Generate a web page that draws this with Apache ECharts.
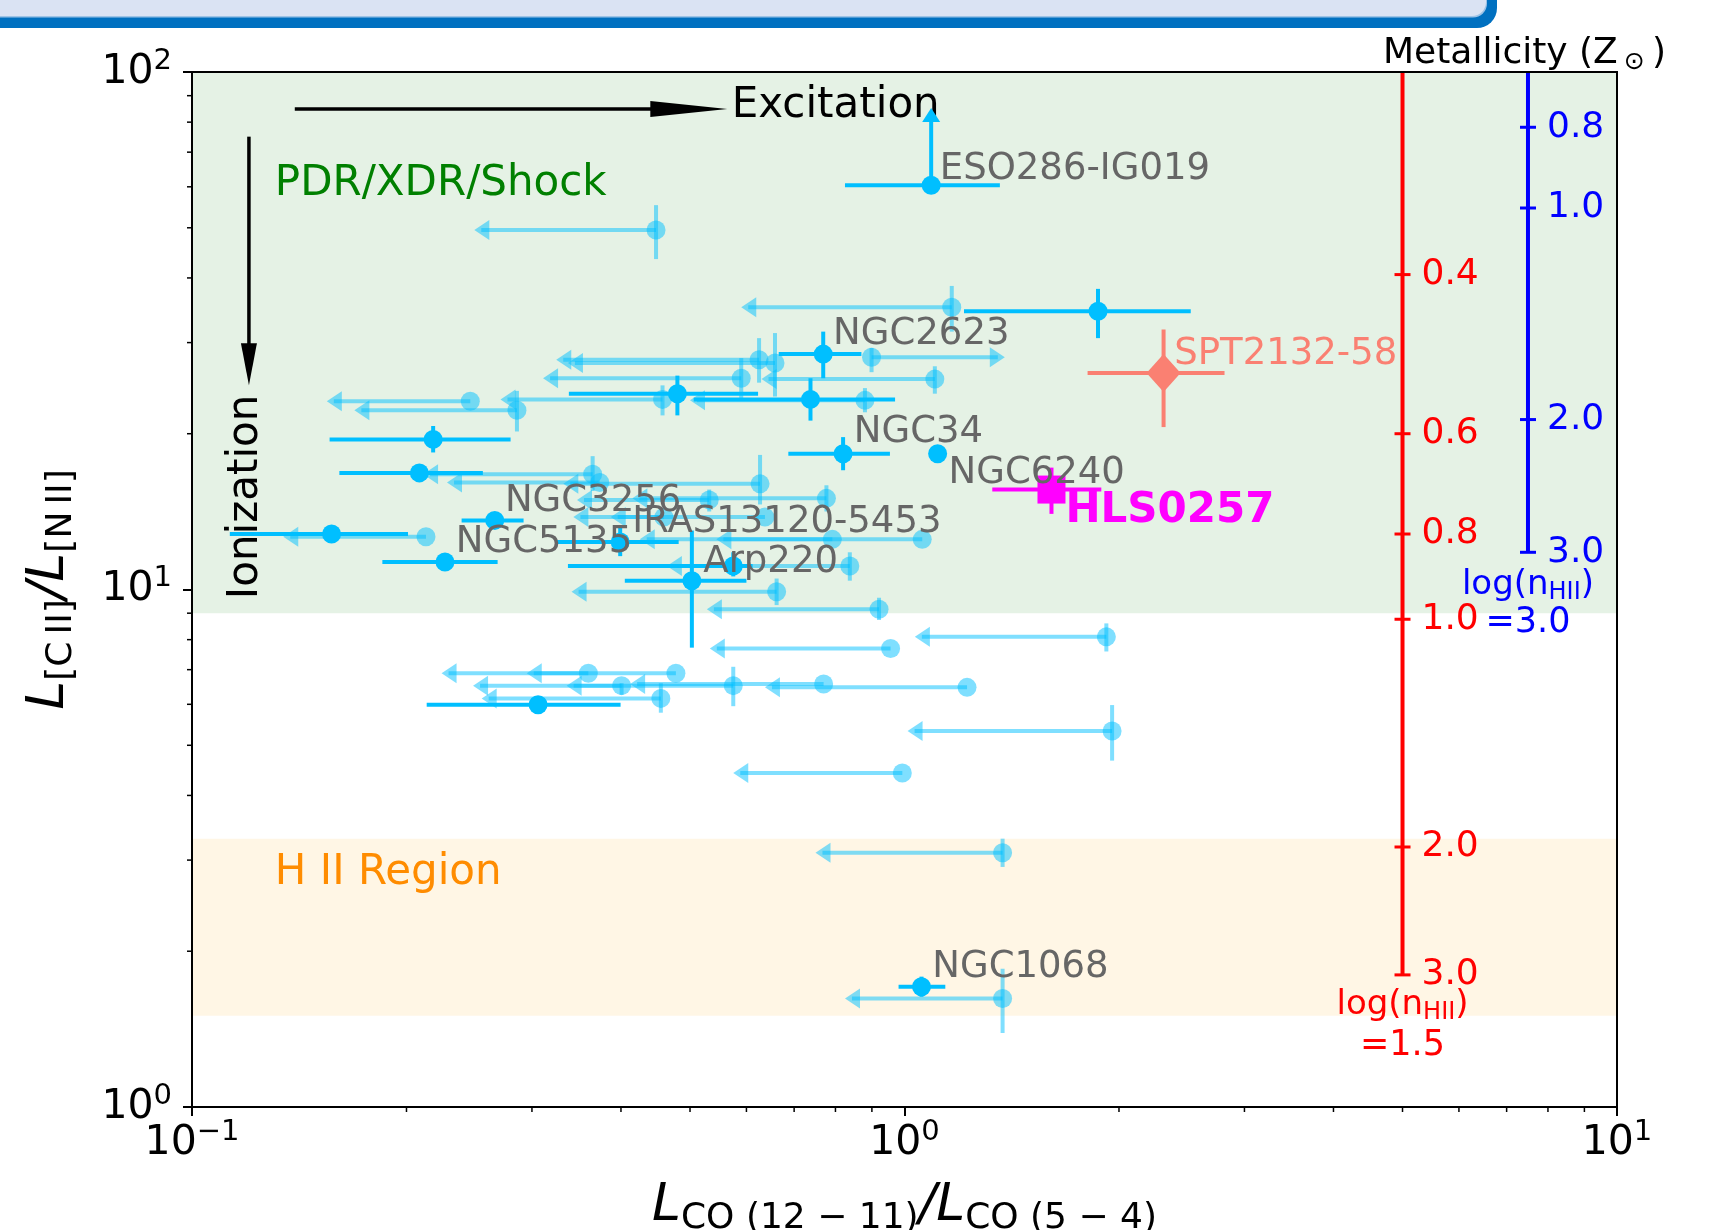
<!DOCTYPE html>
<html><head><meta charset="utf-8">
<script src="https://cdn.jsdelivr.net/npm/echarts@6/dist/echarts.min.js"></script>
<style>html,body{margin:0;padding:0;background:#fff}#c{width:1710px;height:1230px}</style>
</head><body><div id="c"></div><script>
// ---------------- data ----------------
// detections (solid deep-sky-blue points)
const detX   = [1.090, 1.869, 0.769, 0.480, 0.738, 0.218, 0.2085, 0.266, 0.157, 0.2265, 0.399, 0.503, 0.575, 0.820, 1.113, 0.306, 1.0565];
const detY   = [60.4, 34.5, 28.5, 23.9, 23.3, 19.5, 16.8, 13.6, 12.8, 11.3, 12.35, 10.4, 11.1, 18.3, 18.3, 5.99, 1.708];
const detXlo = [0.825, 1.212, 0.666, 0.338, 0.506, 0.156, 0.161, 0.239, 0.113, 0.185, 0.325, 0.405, 0.337, 0.687, null, 0.2135, 0.981];
const detXhi = [1.361, 2.522, 0.870, 0.623, 0.970, 0.280, 0.256, 0.292, 0.201, 0.2685, 0.482, 0.600, 0.612, 0.954, null, 0.3995, 1.141];
const detYlo = [null, 30.6, 25.6, 21.7, 21.2, 18.4, null, null, null, null, 11.6, 7.72, 10.6, 17.0, null, null, 1.633];
const detYhi = [null, 38.1, 31.5, 25.9, 25.6, 20.7, null, null, null, null, 13.2, 13.0, 11.8, 19.7, null, null, 1.786];
const detYLowerLimit = [85.2, null, null, null, null, null, null, null, null, null, null, null, null, null, null, null, null];

// limits (translucent points with arrows); arrow end value in x
const limX   = [0.448,1.165,0.899,1.103,0.880,0.625,0.658,0.590,0.4575,0.2458,0.2858,0.365,0.3735,0.627,0.532,0.777,0.4595,0.637,0.792,1.059,0.213,0.838,0.6615,0.921,1.920,0.956,0.360,0.4777,0.4008,0.575,0.770,1.224,0.455,1.956,0.993,1.373,1.373];
const limY   = [49.5,35.1,28.1,25.5,23.2,27.8,27.4,25.6,23.3,23.1,22.2,16.7,16.1,16.0,14.9,15.0,13.8,13.8,12.5,12.5,12.65,11.1,9.90,9.16,8.10,7.69,6.89,6.89,6.52,6.52,6.57,6.47,6.16,5.33,4.42,3.10,1.62];
const limTip = [0.249,0.590,1.383,0.630,0.500,0.3245,0.337,0.311,0.271,0.1546,0.169,0.211,0.228,0.332,0.347,0.415,0.343,0.387,0.425,0.5445,0.1343,0.464,0.341,0.528,1.034,0.533,0.224,0.295,0.248,0.3356,0.412,0.637,0.255,1.010,0.575,0.750,0.825];
const limYlo = [43.5,31.5,26.3,23.9,22.0,25.1,23.6,23.2,21.7,null,20.2,15.5,null,14.6,14.15,14.15,null,null,null,null,null,10.4,9.33,8.73,7.59,null,null,null,6.26,5.95,null,null,5.78,4.67,null,2.91,1.39];
const limYhi = [55.3,38.6,29.3,27.0,24.5,30.6,31.3,28.0,24.8,null,24.2,18.1,null,18.2,15.6,15.9,null,null,null,null,null,11.8,10.5,9.64,8.60,null,null,null,6.59,7.09,null,null,6.59,5.98,null,3.30,1.85];

// galaxy name labels
const galLabel  = ['ESO286-IG019','NGC2623','NGC34','NGC6240','NGC3256','IRAS13120-5453','NGC5135','Arp220','NGC1068'];
const galLabelX = [1.121, 0.794, 0.849, 1.153, 0.2749, 0.415, 0.2346, 0.522, 1.094];
const galLabelY = [64.9, 31.1, 20.1, 16.8, 14.8, 13.5, 12.35, 11.3, 1.86];

// HLS0257 and SPT2132-58
const hlsX = [1.608], hlsY = [15.6], hlsXerr = [1.328, 1.889], hlsYerr = [14.0, 17.2];
const hlsLabel = ['HLS0257'], hlsLabelX = [1.682], hlsLabelY = [14.2];
const sptX = [2.31], sptY = [26.2], sptXerr = [1.807, 2.813], sptYerr = [20.6, 31.8];
const sptLabel = ['SPT2132-58'], sptLabelX = [2.391], sptLabelY = [28.5];

// background regions
const bandName = ['PDR/XDR/Shock', 'H II Region'];
const bandLow  = [9.0, 1.5];
const bandHigh = [100, 3.3];
const bandLabelX = [0.1307, 0.1307];
const bandLabelY = [60.7, 2.83];

// direction arrows
const arrowFrom = [[0.1394, 84.8], [0.1202, 75.0]];
const arrowTo   = [[0.564, 84.8], [0.1202, 24.8]];
const arrowText = ['Excitation', 'Ionization'];
const arrowTextPos = [[0.572, 86.0], [0.119, 15.1]];

// metallicity scales
const metalRedX = 5.0;
const metalRedTick = ['0.4','0.6','0.8','1.0','2.0','3.0'];
const metalRedTickY = [40.6, 20.0, 12.8, 8.76, 3.18, 1.80];
const metalRedCaption = ['=1.5'];
const metalRedCaptionY = [1.574, 1.31];
const metalBlueX = 7.5;
const metalBlueTick = ['0.8','1.0','2.0','3.0'];
const metalBlueTickY = [78.2, 54.6, 21.3, 11.8];
const metalBlueCaption = ['=3.0'];
const metalBlueCaptionY = [10.2, 8.6];

// axes
const xMin = 0.1, xMax = 10, yMin = 1, yMax = 100;
const xMinorTicks = [0.2,0.3,0.4,0.5,0.6,0.7,0.8,0.9,2,3,4,5,6,7,8,9];
const yMinorTicks = [2,3,4,5,6,7,8,9,20,30,40,50,60,70,80,90];

// ---------------- drawing ----------------
const FONT = '"DejaVu Sans", sans-serif';
const DET = 'rgb(0,191,255)';
const LIM = 'rgba(0,191,255,0.5)';

function seg(a, b, color, w) {
  return {type: 'line', shape: {x1: a[0], y1: a[1], x2: b[0], y2: b[1]}, style: {stroke: color, lineWidth: w}};
}
function caret(tip, dir, color, len, half) {
  const x = tip[0], y = tip[1];
  let pts;
  if (dir === 'left') pts = [[x, y], [x + len, y - half], [x + len, y + half]];
  else if (dir === 'right') pts = [[x, y], [x - len, y - half], [x - len, y + half]];
  else if (dir === 'up') pts = [[x, y], [x - half, y + len], [x + half, y + len]];
  else pts = [[x, y], [x - half, y - len], [x + half, y - len]];
  return {type: 'polygon', shape: {points: pts}, style: {fill: color}};
}
function txt(p, text, style, extra) {
  return Object.assign({type: 'text', x: p[0], y: p[1],
    style: Object.assign({text: text, x: 0, y: 0, fontFamily: FONT, align: 'left', verticalAlign: 'middle'}, style)}, extra || {});
}

const chart = echarts.init(document.getElementById('c'), null, {renderer: 'canvas'});

const supRich = {
  b: {fontSize: 41, fontFamily: FONT, color: '#000'},
  p: {fontSize: 29, fontFamily: FONT, color: '#000', padding: [0, 0, 22, 0]}
};
function powLabel(v) {
  const e = Math.round(Math.log10(v));
  return '{b|10}{p|' + (e < 0 ? '\u2212' + (-e) : e) + '}';
}
const nameRich = {
  L: {fontSize: 52, fontStyle: 'italic', fontFamily: FONT, color: '#000'},
  s: {fontSize: 36, fontFamily: FONT, color: '#000', padding: [26, 0, 0, 0]}
};

const option = {
  animation: false,
  backgroundColor: '#fff',
  grid: {left: 192, right: 93, top: 72, bottom: 123, show: true, z: 10,
         containLabel: false, outerBoundsMode: 'none',
         borderColor: '#000', borderWidth: 2, backgroundColor: 'transparent'},
  xAxis: {
    type: 'log', logBase: 10, min: xMin, max: xMax, z: 10,
    axisLine: {show: true, lineStyle: {color: '#000', width: 2}},
    axisTick: {show: true, length: 9, lineStyle: {color: '#000', width: 2}},
    splitLine: {show: false},
    axisLabel: {formatter: powLabel, rich: supRich, margin: 11},
    name: '{L|L}{s|CO (12 \u2212 11)}{L|/L}{s|CO (5 \u2212 4)}',
    nameLocation: 'middle', nameGap: 68,
    nameTextStyle: {rich: nameRich}
  },
  yAxis: {
    type: 'log', logBase: 10, min: yMin, max: yMax, z: 10,
    axisLine: {show: true, lineStyle: {color: '#000', width: 2}},
    axisTick: {show: true, length: 9, lineStyle: {color: '#000', width: 2}},
    splitLine: {show: false},
    axisLabel: {formatter: powLabel, rich: supRich, margin: 20},
    name: '{L|L}{s|[C\u2009II]}{L|/L}{s|[N\u2009II]}',
    nameLocation: 'middle', nameGap: 112, nameRotate: 90,
    nameTextStyle: {rich: nameRich}
  },
  graphic: [
    {type: 'rect', shape: {x: -40, y: -40, width: 1537, height: 68, r: 20}, style: {fill: '#0070c0'}, z: 100},
    {type: 'rect', shape: {x: -40, y: -40, width: 1527, height: 57.5, r: 14}, style: {fill: '#9dc3e6'}, z: 101},
    {type: 'rect', shape: {x: -40, y: -40, width: 1526, height: 56, r: 14}, style: {fill: '#dae3f3'}, z: 102},
    {type: 'text', x: 1383, y: 54, z: 100,
     style: {text: 'Metallicity (Z{s|\u2299}\u2009)', fontFamily: FONT, fontSize: 36, fill: '#000',
             verticalAlign: 'middle', align: 'left',
             rich: {s: {fontSize: 25, fontFamily: FONT, padding: [16, 0, 0, 6]}}}}
  ],
  series: [
    { // background bands
      type: 'custom', z: 1, silent: true,
      data: bandLow.map((v, i) => [xMin, v]),
      renderItem: (params, api) => {
        const i = params.dataIndex;
        const a = api.coord([xMin, bandHigh[i]]), b = api.coord([xMax, bandLow[i]]);
        const fill = i === 0 ? 'rgba(0,128,0,0.1)' : 'rgba(255,165,0,0.1)';
        return {type: 'rect', shape: {x: a[0], y: a[1], width: b[0] - a[0], height: b[1] - a[1]}, style: {fill: fill}};
      }
    },
    { // x minor ticks
      type: 'custom', z: 11, silent: true, clip: false,
      data: xMinorTicks.map(v => [v, yMin]),
      renderItem: (params, api) => {
        const p = api.coord([xMinorTicks[params.dataIndex], yMin]);
        return seg([p[0], p[1]], [p[0], p[1] + 5], '#000', 1.5);
      }
    },
    { // y minor ticks
      type: 'custom', z: 11, silent: true, clip: false,
      data: yMinorTicks.map(v => [xMin, v]),
      renderItem: (params, api) => {
        const p = api.coord([xMin, yMinorTicks[params.dataIndex]]);
        return seg([p[0], p[1]], [p[0] - 5, p[1]], '#000', 1.5);
      }
    },
    { // metallicity scales
      type: 'custom', z: 3, silent: true,
      data: [[metalRedX, yMax]],
      renderItem: (params, api) => {
        const ch = [];
        function scale(x, ticks, ticksY, color, capY, capText) {
          const top = api.coord([x, yMax]), bot = api.coord([x, ticksY[ticksY.length - 1]]);
          ch.push(seg(top, bot, color, 4));
          ticks.forEach((t, k) => {
            const p = api.coord([x, ticksY[k]]);
            ch.push(seg([p[0] - 8, p[1]], [p[0] + 8, p[1]], color, 3));
            ch.push(txt([p[0] + 19, p[1]], t, {fontSize: 36, fill: color}));
          });
          const c1 = api.coord([x, capY[0]]), c2 = api.coord([x, capY[1]]);
          ch.push(txt(c1, 'log(n{s|HII})', {fontSize: 34, fill: color, align: 'center',
            rich: {s: {fontSize: 24, fontFamily: FONT, fill: color, padding: [16, 0, 0, 0]}}}));
          ch.push(txt(c2, capText, {fontSize: 35, fill: color, align: 'center'}));
        }
        scale(metalRedX, metalRedTick, metalRedTickY, '#ff0000', metalRedCaptionY, metalRedCaption[0]);
        scale(metalBlueX, metalBlueTick, metalBlueTickY, '#0000ff', metalBlueCaptionY, metalBlueCaption[0]);
        return {type: 'group', children: ch};
      }
    },
    { // direction arrows and region labels
      type: 'custom', z: 3, silent: true,
      data: [[arrowFrom[0][0], arrowFrom[0][1]]],
      renderItem: (params, api) => {
        const ch = [];
        let a = api.coord(arrowFrom[0]), b = api.coord(arrowTo[0]);
        ch.push(seg(a, [b[0] - 70, b[1]], '#000', 3.5));
        ch.push(caret(b, 'right', '#000', 77, 8));
        ch.push(txt(api.coord(arrowTextPos[0]), arrowText[0], {fontSize: 42, fill: '#000'}));
        a = api.coord(arrowFrom[1]); b = api.coord(arrowTo[1]);
        ch.push(seg(a, [b[0], b[1] - 38], '#000', 3.5));
        ch.push(caret(b, 'down', '#000', 42, 8));
        ch.push(txt(api.coord(arrowTextPos[1]), arrowText[1], {fontSize: 42, fill: '#000', align: 'center'},
          {rotation: Math.PI / 2}));
        ch.push(txt(api.coord([bandLabelX[0], bandLabelY[0]]), bandName[0], {fontSize: 42, fill: '#008000'}));
        ch.push(txt(api.coord([bandLabelX[1], bandLabelY[1]]), bandName[1], {fontSize: 42, fill: '#ff8c00'}));
        return {type: 'group', children: ch};
      }
    },
    { // limits (translucent)
      type: 'custom', z: 4, silent: true,
      data: limX.map((x, i) => [x, limY[i]]),
      renderItem: (params, api) => {
        const i = params.dataIndex;
        const p = api.coord([limX[i], limY[i]]);
        const t = api.coord([limTip[i], limY[i]]);
        const ch = [];
        const right = limTip[i] > limX[i];
        ch.push(seg(p, [t[0] + (right ? -7 : 7), t[1]], LIM, 4));
        ch.push(caret(t, right ? 'right' : 'left', LIM, 15, 10));
        if (limYlo[i] != null) {
          ch.push(seg(api.coord([limX[i], limYlo[i]]), api.coord([limX[i], limYhi[i]]), LIM, 4));
        }
        ch.push({type: 'circle', shape: {cx: p[0], cy: p[1], r: 9.5}, style: {fill: LIM}});
        return {type: 'group', children: ch};
      }
    },
    { // detections
      type: 'custom', z: 5, silent: true,
      data: detX.map((x, i) => [x, detY[i]]),
      renderItem: (params, api) => {
        const i = params.dataIndex;
        const p = api.coord([detX[i], detY[i]]);
        const ch = [];
        if (detXlo[i] != null) ch.push(seg(api.coord([detXlo[i], detY[i]]), api.coord([detXhi[i], detY[i]]), DET, 4));
        if (detYlo[i] != null) ch.push(seg(api.coord([detX[i], detYlo[i]]), api.coord([detX[i], detYhi[i]]), DET, 4));
        if (detYLowerLimit[i] != null) {
          const t = api.coord([detX[i], detYLowerLimit[i]]);
          ch.push(seg(p, [t[0], t[1] + 6], DET, 4));
          ch.push(caret(t, 'up', DET, 14, 9));
        }
        ch.push({type: 'circle', shape: {cx: p[0], cy: p[1], r: 9.5}, style: {fill: DET}});
        return {type: 'group', children: ch};
      }
    },
    { // SPT2132-58
      type: 'custom', z: 6, silent: true,
      data: sptX.map((x, i) => [x, sptY[i]]),
      renderItem: (params, api) => {
        const p = api.coord([sptX[0], sptY[0]]);
        const c = '#fa8072';
        return {type: 'group', children: [
          seg(api.coord([sptXerr[0], sptY[0]]), api.coord([sptXerr[1], sptY[0]]), c, 4),
          seg(api.coord([sptX[0], sptYerr[0]]), api.coord([sptX[0], sptYerr[1]]), c, 4),
          {type: 'polygon', shape: {points: [[p[0], p[1] - 19], [p[0] + 17, p[1]], [p[0], p[1] + 19], [p[0] - 17, p[1]]]}, style: {fill: c}},
          txt(api.coord([sptLabelX[0], sptLabelY[0]]), sptLabel[0], {fontSize: 37, fill: c})
        ]};
      }
    },
    { // HLS0257
      type: 'custom', z: 7, silent: true,
      data: hlsX.map((x, i) => [x, hlsY[i]]),
      renderItem: (params, api) => {
        const p = api.coord([hlsX[0], hlsY[0]]);
        const c = '#ff00ff';
        return {type: 'group', children: [
          seg(api.coord([hlsXerr[0], hlsY[0]]), api.coord([hlsXerr[1], hlsY[0]]), c, 4),
          seg(api.coord([hlsX[0], hlsYerr[0]]), api.coord([hlsX[0], hlsYerr[1]]), c, 4),
          {type: 'rect', shape: {x: p[0] - 14, y: p[1] - 14, width: 28, height: 28}, style: {fill: c}},
          txt(api.coord([hlsLabelX[0], hlsLabelY[0]]), hlsLabel[0], {fontSize: 42, fontWeight: 'bold', fill: c})
        ]};
      }
    },
    { // galaxy labels
      type: 'custom', z: 8, silent: true,
      data: galLabelX.map((x, i) => [x, galLabelY[i]]),
      renderItem: (params, api) => {
        const i = params.dataIndex;
        return txt(api.coord([galLabelX[i], galLabelY[i]]), galLabel[i], {fontSize: 37, fill: '#666666'});
      }
    }
  ]
};
chart.setOption(option);
</script></body></html>
